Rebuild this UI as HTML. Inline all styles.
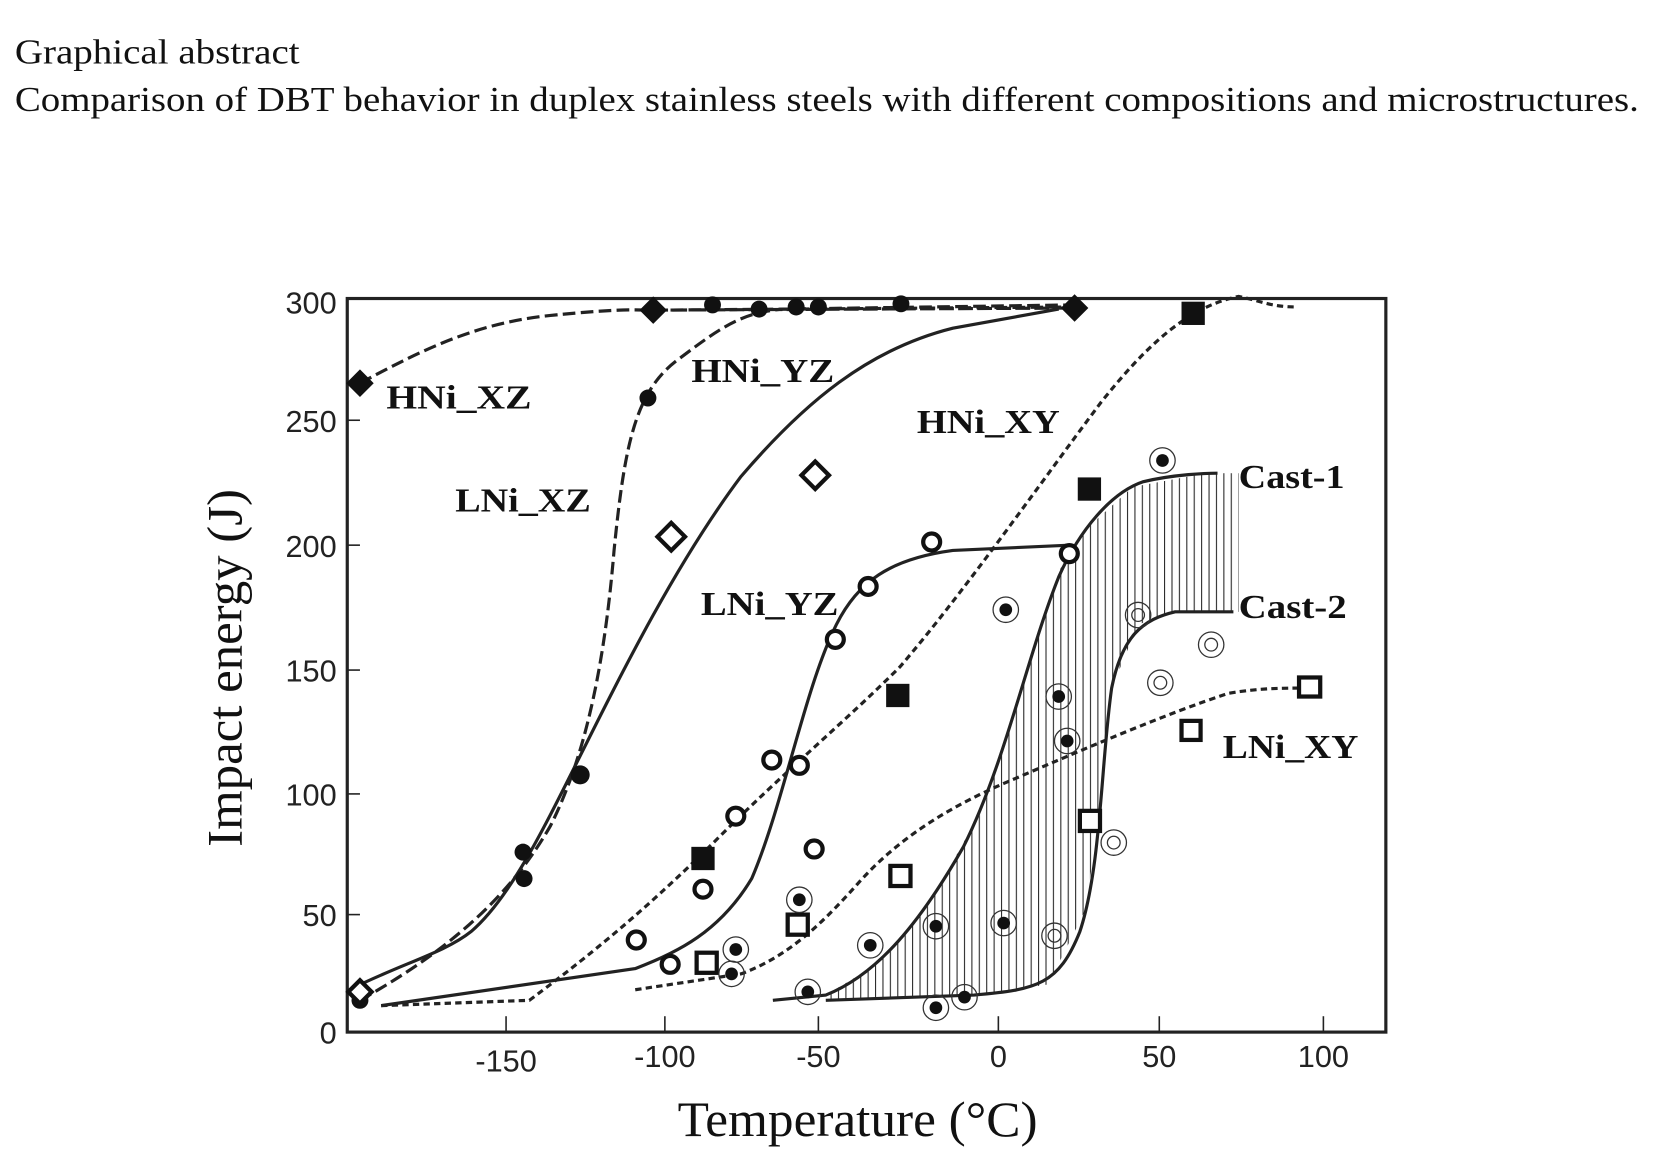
<!DOCTYPE html>
<html><head><style>html,body{margin:0;padding:0;background:#fff}svg{display:block}</style></head><body>
<svg width="1659" height="1175" viewBox="0 0 1567 1110" preserveAspectRatio="none" xmlns="http://www.w3.org/2000/svg">
<defs>
<pattern id="hp" width="7" height="10" patternUnits="userSpaceOnUse"><line x1="1" y1="0" x2="1" y2="10" stroke="#222" stroke-width="1"/></pattern>
<clipPath id="hc"><path d="M780,940 L830,910 880,850 930,760 970,630 1000,540 1020,505 1070,460 1140,447 1170,447 L1170,578 1110,578 1075,590 1050,650 1040,760 1025,860 990,930 920,940 780,945Z"/></clipPath>
</defs>
<g font-family="Liberation Serif, serif" fill="#111">
<text x="14" y="60" font-size="33" textLength="269" lengthAdjust="spacingAndGlyphs">Graphical abstract</text>
<text x="14" y="105" font-size="33" textLength="1534" lengthAdjust="spacingAndGlyphs">Comparison of DBT behavior in duplex stainless steels with different compositions and microstructures.</text>
<text x="810" y="1073" font-size="47" text-anchor="middle" textLength="340" lengthAdjust="spacingAndGlyphs">Temperature (°C)</text>
<text transform="translate(228,631) rotate(-90)" font-size="47" text-anchor="middle" textLength="338" lengthAdjust="spacingAndGlyphs">Impact energy (J)</text>
</g>
<rect x="328" y="282" width="981" height="693" fill="none" stroke="#222" stroke-width="3"/>
<g font-family="Liberation Sans, sans-serif" font-size="29" fill="#222">
<text x="318" y="296" text-anchor="end">300</text><text x="318" y="408" text-anchor="end">250</text>
<text x="318" y="526" text-anchor="end">200</text><text x="318" y="644" text-anchor="end">150</text>
<text x="318" y="761" text-anchor="end">100</text><text x="318" y="875" text-anchor="end">50</text>
<text x="318" y="986" text-anchor="end">0</text>
<text x="478" y="1012" text-anchor="middle">-150</text><text x="628" y="1008" text-anchor="middle">-100</text>
<text x="773" y="1008" text-anchor="middle">-50</text><text x="943" y="1008" text-anchor="middle">0</text>
<text x="1095" y="1008" text-anchor="middle">50</text><text x="1250" y="1008" text-anchor="middle">100</text>
</g>
<g stroke="#222" stroke-width="1.5">
<line x1="478" y1="975" x2="478" y2="960"/><line x1="628" y1="975" x2="628" y2="960"/><line x1="773" y1="975" x2="773" y2="960"/><line x1="943" y1="975" x2="943" y2="960"/><line x1="1095" y1="975" x2="1095" y2="960"/><line x1="1250" y1="975" x2="1250" y2="960"/>
<line x1="328" y1="397" x2="340" y2="397"/><line x1="328" y1="515" x2="340" y2="515"/><line x1="328" y1="633" x2="340" y2="633"/><line x1="328" y1="750" x2="340" y2="750"/><line x1="328" y1="864" x2="340" y2="864"/>
</g>
<rect x="770" y="440" width="410" height="510" fill="url(#hp)" clip-path="url(#hc)"/>
<g fill="none" stroke="#222">
<path d="M340,362 C400,330 450,305 520,298 S600,293 617,293 L1015,290" stroke-width="3" stroke-dasharray="12,5"/>
<path d="M340,945 C420,900 480,850 520,780 C550,720 570,640 580,520 C590,420 600,370 640,340 C680,310 700,295 740,292 L1015,288" stroke-width="3" stroke-dasharray="12,5"/>
<path d="M617,293 L1015,291" stroke-width="3" stroke-dasharray="14,4"/>
<path d="M330,935 C380,910 420,900 445,880 C480,850 510,790 545,720 C590,630 640,530 700,450 C760,380 820,330 900,310 L1000,292" stroke-width="3"/>
<path d="M360,950 L600,915 C640,900 680,880 710,830 C740,760 760,650 790,590 C810,550 840,528 900,520 L1010,515" stroke-width="3"/>
<path d="M360,950 L500,945 C540,915 600,870 680,790 C740,730 800,680 850,630 C910,560 980,460 1040,380 C1080,330 1120,290 1170,280 C1190,284 1200,290 1225,290" stroke-width="3" stroke-dasharray="6,4"/>
<path d="M730,945 L780,940 C830,920 870,870 910,800 C950,720 970,620 1000,545 C1020,500 1050,465 1080,455 C1110,448 1140,447 1150,447" stroke-width="3"/>
<path d="M780,945 L920,940 C980,935 1000,930 1020,880 C1040,820 1040,720 1050,650 C1060,600 1080,585 1110,578 L1165,578" stroke-width="3"/>
<path d="M600,935 L700,920 C740,905 770,880 810,835 C850,790 900,760 960,735 C1030,705 1100,675 1160,655 C1190,650 1210,650 1237,650" stroke-width="3" stroke-dasharray="6,4"/>
</g>
<g fill="#111">
<path d="M340,349 l13,13 -13,13 -13,-13z M617,280 l13,13 -13,13 -13,-13z M1015,278 l13,13 -13,13 -13,-13z"/>
<circle cx="673" cy="288" r="8"/><circle cx="717" cy="292" r="8"/><circle cx="752" cy="290" r="8"/><circle cx="773" cy="290" r="8"/><circle cx="851" cy="287" r="8"/><circle cx="612" cy="376" r="8"/><circle cx="548" cy="732" r="9"/><circle cx="494" cy="805" r="8"/><circle cx="495" cy="830" r="8"/><circle cx="340" cy="945" r="8"/>
<rect x="653" y="800" width="22" height="22"/><rect x="837" y="646" width="22" height="22"/><rect x="1018" y="451" width="22" height="22"/><rect x="1116" y="285" width="22" height="22"/>
</g>
<g fill="#fff" stroke="#111" stroke-width="4">
<path d="M340,926 l11,11 -11,11 -11,-11z M634,494 l13,13 -13,13 -13,-13z M770,436 l13,13 -13,13 -13,-13z"/>
<circle cx="601" cy="888" r="8"/><circle cx="633" cy="911" r="8"/><circle cx="664" cy="840" r="8"/><circle cx="695" cy="771" r="8"/><circle cx="729" cy="718" r="8"/><circle cx="755" cy="723" r="8"/><circle cx="769" cy="802" r="8"/><circle cx="789" cy="604" r="8"/><circle cx="820" cy="554" r="8"/><circle cx="880" cy="512" r="8"/><circle cx="1010" cy="523" r="8"/>
<rect x="658" y="900" width="19" height="19"/><rect x="744" y="864" width="19" height="19"/><rect x="841" y="818" width="19" height="19"/><rect x="1020" y="766" width="19" height="19"/><rect x="1116" y="681" width="18" height="18"/><rect x="1227" y="640" width="20" height="18"/>
</g>
<g fill="none" stroke="#333" stroke-width="1.2">
<circle cx="1098" cy="435" r="12"/><circle cx="950" cy="576" r="12"/><circle cx="1000" cy="658" r="12"/><circle cx="1008" cy="700" r="12"/><circle cx="884" cy="875" r="12"/><circle cx="948" cy="872" r="12"/><circle cx="884" cy="952" r="12"/><circle cx="911" cy="942" r="12"/><circle cx="822" cy="893" r="12"/><circle cx="755" cy="850" r="12"/><circle cx="763" cy="937" r="12"/><circle cx="695" cy="897" r="12"/><circle cx="691" cy="920" r="12"/>
<circle cx="1075" cy="581" r="12"/><circle cx="1075" cy="581" r="6"/><circle cx="1144" cy="609" r="12"/><circle cx="1144" cy="609" r="6"/><circle cx="1096" cy="645" r="12"/><circle cx="1096" cy="645" r="6"/><circle cx="1052" cy="796" r="12"/><circle cx="1052" cy="796" r="6"/><circle cx="996" cy="884" r="12"/><circle cx="996" cy="884" r="6"/>
</g>
<g fill="#111">
<circle cx="1098" cy="435" r="6"/><circle cx="950" cy="576" r="6"/><circle cx="1000" cy="658" r="6"/><circle cx="1008" cy="700" r="6"/><circle cx="884" cy="875" r="6"/><circle cx="948" cy="872" r="6"/><circle cx="884" cy="952" r="6"/><circle cx="911" cy="942" r="6"/><circle cx="822" cy="893" r="6"/><circle cx="755" cy="850" r="6"/><circle cx="763" cy="937" r="6"/><circle cx="695" cy="897" r="6"/><circle cx="691" cy="920" r="6"/>
</g>
<g font-family="Liberation Serif, serif" font-weight="bold" font-size="32" fill="#111" lengthAdjust="spacingAndGlyphs">
<text x="365" y="386" textLength="137" lengthAdjust="spacingAndGlyphs">HNi_XZ</text>
<text x="653" y="361" textLength="135" lengthAdjust="spacingAndGlyphs">HNi_YZ</text>
<text x="866" y="409" textLength="135" lengthAdjust="spacingAndGlyphs">HNi_XY</text>
<text x="430" y="483" textLength="128" lengthAdjust="spacingAndGlyphs">LNi_XZ</text>
<text x="662" y="581" textLength="130" lengthAdjust="spacingAndGlyphs">LNi_YZ</text>
<text x="1170" y="461" textLength="100" lengthAdjust="spacingAndGlyphs">Cast-1</text>
<text x="1170" y="584" textLength="102" lengthAdjust="spacingAndGlyphs">Cast-2</text>
<text x="1155" y="716" textLength="128" lengthAdjust="spacingAndGlyphs">LNi_XY</text>
</g>
</svg>
</body></html>
